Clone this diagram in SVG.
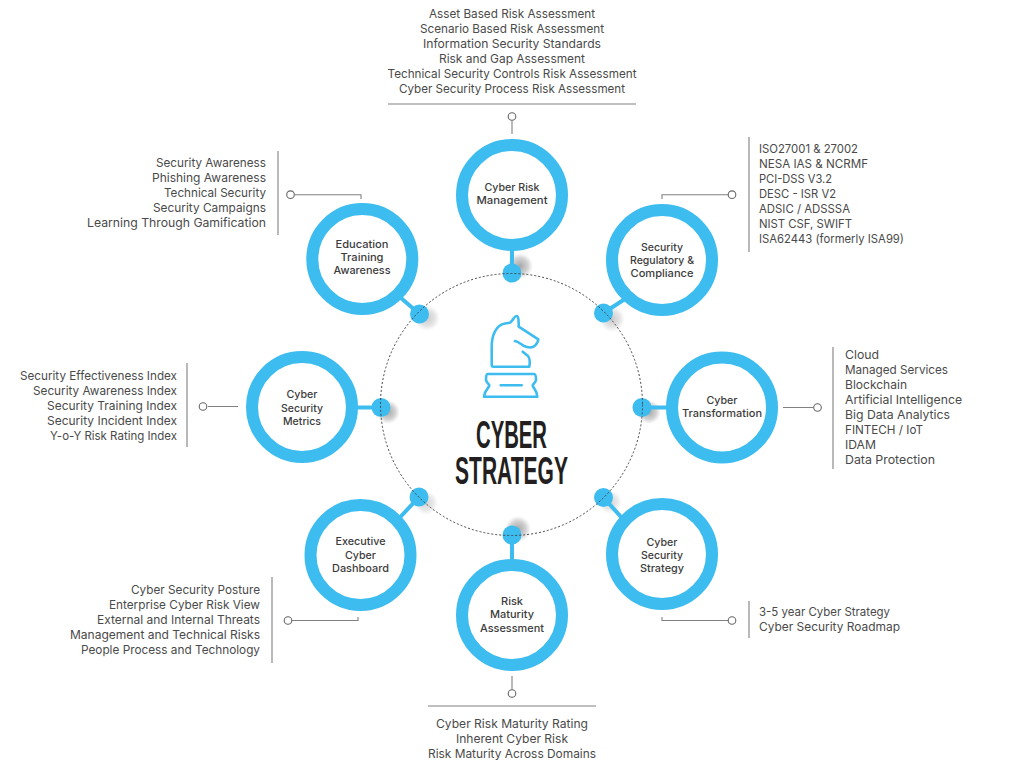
<svg xmlns="http://www.w3.org/2000/svg" width="1024" height="768" viewBox="0 0 1024 768">
<style>
text{font-family:Inter,"Noto Sans",sans-serif;fill:#4a4a4a}
.l{font-size:11.8px}
.n{font-size:10.8px;text-anchor:middle;font-weight:500;fill:#3c3c3c}
.m{text-anchor:middle}.e{text-anchor:end}
.ring{fill:#fff;stroke:#3dbcf0;stroke-width:12}
.stem{stroke:#3dbcf0;stroke-width:4;fill:none}
.dot{fill:#3dbcf0}
.lead{stroke:#808080;stroke-width:1.1;fill:none}
.pin{fill:#fff;stroke:#666;stroke-width:1.1}
.icon{fill:none;stroke:#3dbcf0;stroke-width:2.6;stroke-linecap:round;stroke-linejoin:round}
.t{font-family:"Liberation Sans",sans-serif;font-weight:700;font-size:39px;text-anchor:middle;fill:#231f20}
</style>
<defs><radialGradient id="sh"><stop offset="0" stop-color="#888" stop-opacity=".75"/><stop offset=".6" stop-color="#999" stop-opacity=".45"/><stop offset="1" stop-color="#aaa" stop-opacity="0"/></radialGradient></defs>
<g id="shadows">
<circle cx="520" cy="266" r="13" fill="url(#sh)"/><circle cx="612" cy="319" r="13" fill="url(#sh)" opacity=".6"/><circle cx="649" cy="412" r="12" fill="url(#sh)"/><circle cx="610" cy="502" r="12" fill="url(#sh)" opacity=".5"/><circle cx="518" cy="529" r="13" fill="url(#sh)"/><circle cx="426" cy="503" r="12" fill="url(#sh)" opacity=".5"/><circle cx="388" cy="412" r="12" fill="url(#sh)"/><circle cx="427" cy="318" r="13" fill="url(#sh)" opacity=".6"/>
</g>
<g id="connectors">
<path class="stem" d="M512 250V273M631 295 603.5 313M682 407.5H642M631 528 603.5 497.5M512 560V535M391 527 419 497M345 407.5H381M394 292 419.5 314"/>
<path class="lead" d="M388 104H636M512 120.500V134M428 706H596M512 676V689.500M662 199V194.700H728M749 137V252M361 199V194.700H294.500M278 151V235M783 407.500H813M833 347V469M662 617V620.500H728M749 601V638M358 617V620.500H292M272 577V663M208 406.500H238M187 363V447"/>
<circle class="pin" cx="512" cy="116.500" r="3.800"/><circle class="pin" cx="732" cy="194.700" r="3.800"/><circle class="pin" cx="817.500" cy="407.500" r="3.800"/><circle class="pin" cx="732" cy="620.500" r="3.800"/><circle class="pin" cx="512" cy="693.500" r="3.800"/><circle class="pin" cx="288" cy="620.500" r="3.800"/><circle class="pin" cx="203" cy="406.500" r="3.800"/><circle class="pin" cx="290.500" cy="194.700" r="3.800"/>
<g class="dot"><circle cx="512" cy="273" r="9.500"/><circle cx="603.500" cy="313" r="9.500"/><circle cx="642" cy="407.500" r="9.500"/><circle cx="603.500" cy="497.500" r="9.500"/><circle cx="512" cy="535" r="9.500"/><circle cx="419" cy="497" r="9.500"/><circle cx="381" cy="407.500" r="9.500"/><circle cx="419.500" cy="314" r="9.500"/></g>
<circle cx="511.500" cy="404.500" r="131" fill="none" stroke="#444" stroke-width="1" stroke-dasharray="2 2"/>
</g>
<g id="center">
<path class="icon" d="M491.700 365V346.700C491.700 335 496 325 505 323.500L510 322.700C513 321 514 316 516.500 316C518.500 316 518.700 320 518.700 326.700L538.300 339.300C538 343 535 346 533.300 346.700C530 348.500 527 347.500 523 345.500C520 343.500 518 341.500 515 341M522.700 351.700 528 356C530.500 359 530 363 529.300 366.700H493.300C492 366.700 491.700 366 491.700 365M487.500 374H534C535.500 374 536 375 536 380C535.500 383 533 384 532.700 385.500C533 388 537 390 537.300 396.700H484C484.500 390 489 388 489.300 385.500C489 384 486.500 383 486 380C486 375 486.500 374 487.500 374ZM500.700 385.300H521.700"/>
<text class="t" x="511.500" y="448" textLength="71" lengthAdjust="spacingAndGlyphs">CYBER</text>
<text class="t" x="511.500" y="484" textLength="113" lengthAdjust="spacingAndGlyphs">STRATEGY</text>
</g>
<g id="risk-management"><circle class="ring" cx="512" cy="195" r="50"/><text class="n" x="512" y="191" textLength="55" lengthAdjust="spacingAndGlyphs">Cyber Risk</text><text class="n" x="512" y="204" textLength="71" lengthAdjust="spacingAndGlyphs">Management</text></g>
<g id="regulatory"><circle class="ring" cx="662" cy="260" r="50"/><text class="n" x="662" y="251" textLength="42" lengthAdjust="spacingAndGlyphs">Security</text><text class="n" x="662" y="264" textLength="64" lengthAdjust="spacingAndGlyphs">Regulatory &amp;</text><text class="n" x="662" y="277" textLength="63" lengthAdjust="spacingAndGlyphs">Compliance</text></g>
<g id="transformation"><circle class="ring" cx="722" cy="407.500" r="50"/><text class="n" x="722" y="404" textLength="31" lengthAdjust="spacingAndGlyphs">Cyber</text><text class="n" x="722" y="417" textLength="80" lengthAdjust="spacingAndGlyphs">Transformation</text></g>
<g id="security-strategy"><circle class="ring" cx="662" cy="554" r="50"/><text class="n" x="662" y="545.500" textLength="31" lengthAdjust="spacingAndGlyphs">Cyber</text><text class="n" x="662" y="558.500" textLength="42" lengthAdjust="spacingAndGlyphs">Security</text><text class="n" x="662" y="572" textLength="44" lengthAdjust="spacingAndGlyphs">Strategy</text></g>
<g id="maturity"><circle class="ring" cx="512" cy="615" r="50"/><text class="n" x="512" y="605" textLength="22" lengthAdjust="spacingAndGlyphs">Risk</text><text class="n" x="512" y="618" textLength="44" lengthAdjust="spacingAndGlyphs">Maturity</text><text class="n" x="512" y="632" textLength="64" lengthAdjust="spacingAndGlyphs">Assessment</text></g>
<g id="dashboard"><circle class="ring" cx="360.500" cy="555" r="50"/><text class="n" x="360.500" y="545" textLength="50" lengthAdjust="spacingAndGlyphs">Executive</text><text class="n" x="360.500" y="559" textLength="31" lengthAdjust="spacingAndGlyphs">Cyber</text><text class="n" x="360.500" y="572" textLength="57" lengthAdjust="spacingAndGlyphs">Dashboard</text></g>
<g id="metrics"><circle class="ring" cx="302" cy="407" r="50"/><text class="n" x="302" y="398" textLength="31" lengthAdjust="spacingAndGlyphs">Cyber</text><text class="n" x="302" y="412" textLength="42" lengthAdjust="spacingAndGlyphs">Security</text><text class="n" x="302" y="425" textLength="38" lengthAdjust="spacingAndGlyphs">Metrics</text></g>
<g id="education"><circle class="ring" cx="362.300" cy="259" r="50"/><text class="n" x="362" y="248" textLength="53" lengthAdjust="spacingAndGlyphs">Education</text><text class="n" x="362" y="261" textLength="43" lengthAdjust="spacingAndGlyphs">Training</text><text class="n" x="362" y="274" textLength="57" lengthAdjust="spacingAndGlyphs">Awareness</text></g>
<g id="list-top"><text class="m l" x="512" y="18" textLength="166" lengthAdjust="spacingAndGlyphs">Asset Based Risk Assessment</text><text class="m l" x="512" y="33" textLength="184" lengthAdjust="spacingAndGlyphs">Scenario Based Risk Assessment</text><text class="m l" x="512" y="48" textLength="178" lengthAdjust="spacingAndGlyphs">Information Security Standards</text><text class="m l" x="512" y="63" textLength="146" lengthAdjust="spacingAndGlyphs">Risk and Gap Assessment</text><text class="m l" x="512" y="78" textLength="249" lengthAdjust="spacingAndGlyphs">Technical Security Controls Risk Assessment</text><text class="m l" x="512" y="93" textLength="226" lengthAdjust="spacingAndGlyphs">Cyber Security Process Risk Assessment</text></g>
<g id="list-reg"><text class="l" x="759" y="152.500" textLength="99" lengthAdjust="spacingAndGlyphs">ISO27001 &amp; 27002</text><text class="l" x="759" y="167.500" textLength="109" lengthAdjust="spacingAndGlyphs">NESA IAS &amp; NCRMF</text><text class="l" x="759" y="182.500" textLength="73" lengthAdjust="spacingAndGlyphs">PCI-DSS V3.2</text><text class="l" x="759" y="197.500" textLength="77" lengthAdjust="spacingAndGlyphs">DESC - ISR V2</text><text class="l" x="759" y="212.500" textLength="91" lengthAdjust="spacingAndGlyphs">ADSIC / ADSSSA</text><text class="l" x="759" y="227.500" textLength="93" lengthAdjust="spacingAndGlyphs">NIST CSF, SWIFT</text><text class="l" x="759" y="243" textLength="145" lengthAdjust="spacingAndGlyphs">ISA62443 (formerly ISA99)</text></g>
<g id="list-trans"><text class="l" x="845" y="359" textLength="34" lengthAdjust="spacingAndGlyphs">Cloud</text><text class="l" x="845" y="374" textLength="103" lengthAdjust="spacingAndGlyphs">Managed Services</text><text class="l" x="845" y="389" textLength="62" lengthAdjust="spacingAndGlyphs">Blockchain</text><text class="l" x="845" y="404" textLength="117" lengthAdjust="spacingAndGlyphs">Artificial Intelligence</text><text class="l" x="845" y="419" textLength="105" lengthAdjust="spacingAndGlyphs">Big Data Analytics</text><text class="l" x="845" y="434" textLength="78" lengthAdjust="spacingAndGlyphs">FINTECH / IoT</text><text class="l" x="845" y="449" textLength="31" lengthAdjust="spacingAndGlyphs">IDAM</text><text class="l" x="845" y="464" textLength="90" lengthAdjust="spacingAndGlyphs">Data Protection</text></g>
<g id="list-strategy"><text class="l" x="759" y="616" textLength="131" lengthAdjust="spacingAndGlyphs">3-5 year Cyber Strategy</text><text class="l" x="759" y="631" textLength="141" lengthAdjust="spacingAndGlyphs">Cyber Security Roadmap</text></g>
<g id="list-maturity"><text class="m l" x="512" y="728" textLength="152" lengthAdjust="spacingAndGlyphs">Cyber Risk Maturity Rating</text><text class="m l" x="512" y="743" textLength="112" lengthAdjust="spacingAndGlyphs">Inherent Cyber Risk</text><text class="m l" x="512" y="758" textLength="168" lengthAdjust="spacingAndGlyphs">Risk Maturity Across Domains</text></g>
<g id="list-dashboard"><text class="e l" x="260" y="594" textLength="129" lengthAdjust="spacingAndGlyphs">Cyber Security Posture</text><text class="e l" x="260" y="609" textLength="151" lengthAdjust="spacingAndGlyphs">Enterprise Cyber Risk View</text><text class="e l" x="260" y="624" textLength="163" lengthAdjust="spacingAndGlyphs">External and Internal Threats</text><text class="e l" x="260" y="639" textLength="190" lengthAdjust="spacingAndGlyphs">Management and Technical Risks</text><text class="e l" x="260" y="654" textLength="179" lengthAdjust="spacingAndGlyphs">People Process and Technology</text></g>
<g id="list-metrics"><text class="e l" x="177" y="379.500" textLength="157" lengthAdjust="spacingAndGlyphs">Security Effectiveness Index</text><text class="e l" x="177" y="394.500" textLength="144" lengthAdjust="spacingAndGlyphs">Security Awareness Index</text><text class="e l" x="177" y="409.500" textLength="130" lengthAdjust="spacingAndGlyphs">Security Training Index</text><text class="e l" x="177" y="424.500" textLength="130" lengthAdjust="spacingAndGlyphs">Security Incident Index</text><text class="e l" x="177" y="439.500" textLength="127" lengthAdjust="spacingAndGlyphs">Y-o-Y Risk Rating Index</text></g>
<g id="list-education"><text class="e l" x="266" y="166.500" textLength="110" lengthAdjust="spacingAndGlyphs">Security Awareness</text><text class="e l" x="266" y="181.500" textLength="114" lengthAdjust="spacingAndGlyphs">Phishing Awareness</text><text class="e l" x="266" y="196.500" textLength="102" lengthAdjust="spacingAndGlyphs">Technical Security</text><text class="e l" x="266" y="211.500" textLength="113" lengthAdjust="spacingAndGlyphs">Security Campaigns</text><text class="e l" x="266" y="226.500" textLength="179" lengthAdjust="spacingAndGlyphs">Learning Through Gamification</text></g>
</svg>
